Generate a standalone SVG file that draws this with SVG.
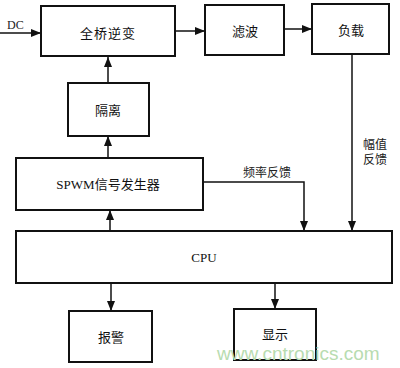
<svg xmlns="http://www.w3.org/2000/svg" width="400" height="368" viewBox="0 0 400 368">
<defs>
<marker id="ah" viewBox="0 0 10 8" refX="10" refY="4" markerWidth="10" markerHeight="8" markerUnits="userSpaceOnUse" orient="auto">
<path d="M0,0 L10,4 L0,8 Z" fill="#111"/>
</marker>
<style>
.box{fill:#fff;stroke:#111;stroke-width:2}
.ln{fill:none;stroke:#111;stroke-width:1.5}
.t{font-family:"Liberation Serif","Noto Sans CJK SC",serif;font-size:13px;fill:#111;text-anchor:middle;dominant-baseline:central}
.lbl{font-family:"Liberation Serif","Noto Sans CJK SC",serif;font-size:12px;fill:#222}
.wm{font-family:"Liberation Sans",Arial,sans-serif;font-size:19px;fill:#b8dcb0}
</style>
</defs>
<rect width="400" height="368" fill="#fff"/>
<g id="connectors">
<path class="ln" d="M0,33 H41" marker-end="url(#ah)"/>
<path class="ln" d="M175,31 H205" marker-end="url(#ah)"/>
<path class="ln" d="M284,29 H312" marker-end="url(#ah)"/>
<path class="ln" d="M108,83 V57" marker-end="url(#ah)"/>
<path class="ln" d="M108,158 V136" marker-end="url(#ah)"/>
<path class="ln" d="M110,231 V210" marker-end="url(#ah)"/>
<path class="ln" d="M203,182 H304 V231" marker-end="url(#ah)"/>
<path class="ln" d="M352,54 V231" marker-end="url(#ah)"/>
<path class="ln" d="M111,283 V311" marker-end="url(#ah)"/>
<path class="ln" d="M275,283 V309" marker-end="url(#ah)"/>
<text class="lbl" x="7" y="29" font-size="14">DC</text>
<text class="lbl" x="243" y="177">频率反馈</text>
<text class="lbl" x="363" y="149">幅值</text>
<text class="lbl" x="363" y="164">反馈</text>
</g>
<g id="inverter"><rect class="box" x="41" y="6" width="134" height="50"/><text class="t" x="108" y="33" letter-spacing="1">全桥逆变</text></g>
<g id="filter"><rect class="box" x="205" y="5" width="79" height="50"/><text class="t" x="245" y="31">滤波</text></g>
<g id="load"><rect class="box" x="312" y="4" width="77" height="50"/><text class="t" x="351" y="30">负载</text></g>
<g id="isolation"><rect class="box" x="68" y="83" width="81" height="53"/><text class="t" x="108" y="110">隔离</text></g>
<g id="spwm"><rect class="box" x="16" y="158" width="187" height="52"/><text class="t" x="108" y="184">SPWM信号发生器</text></g>
<g id="cpu"><rect class="box" x="16" y="231" width="376" height="52"/><text class="t" x="204" y="257" font-size="14">CPU</text></g>
<g id="alarm"><rect class="box" x="69" y="311" width="83" height="51"/><text class="t" x="111" y="337">报警</text></g>
<g id="display"><rect class="box" x="234" y="309" width="82" height="51"/><text class="t" x="275" y="334">显示</text></g>
<text class="wm" x="217" y="360">www.cntronics.com</text>
</svg>
